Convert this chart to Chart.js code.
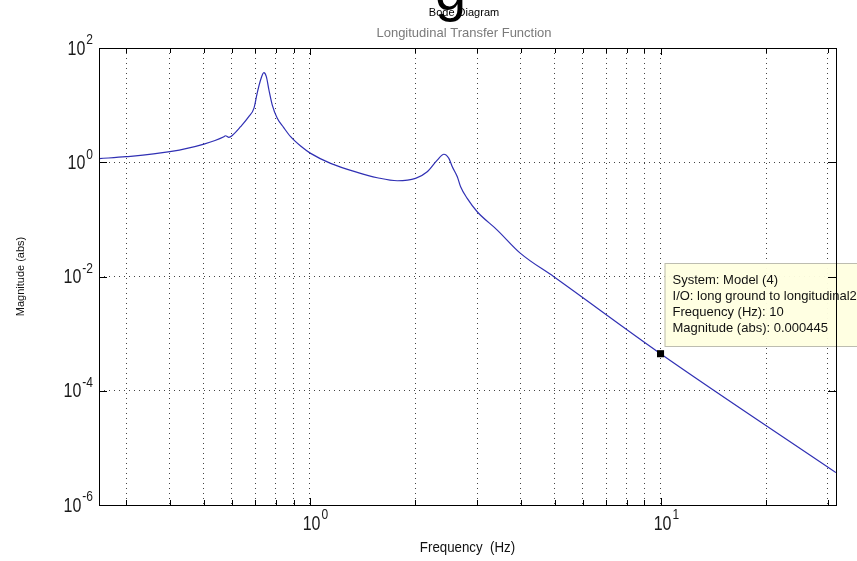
<!DOCTYPE html>
<html><head><meta charset="utf-8">
<script src="https://cdn.jsdelivr.net/npm/chart.js@4/dist/chart.umd.min.js"></script>
<style>html,body{margin:0;padding:0;background:#fff}#wrap{width:857px;height:561px;position:relative}</style>
</head><body><div id="wrap"><canvas id="c" width="857" height="561"></canvas></div>
<script>
// ---- data ----
const frequencies = [0.252,0.3,0.4,0.5,0.57,0.576,0.589,0.604,0.636,0.671,0.694,0.709,0.725,0.741,0.753,0.766,0.783,0.809,0.843,0.883,0.943,1.007,1.148,1.367,1.559,1.778,2.004,2.164,2.311,2.414,2.494,2.551,2.636,2.694,2.813,3.004,3.426,3.991,4.966,10,31.6];
const magnitudes  = [1.16,1.25,1.53,2.08,2.80,2.91,2.73,2.99,4.19,6.27,8.79,16.1,27.5,37.0,31.5,18.4,10.0,5.87,4.08,2.80,1.92,1.43,0.957,0.665,0.536,0.474,0.522,0.682,1.09,1.38,1.17,0.834,0.557,0.372,0.233,0.136,0.065,0.0254,0.00989,0.000445,0.0000037];
const markerFreq = [10];
const markerMag = [0.000445];
const xGridValues = [0.3,0.4,0.5,0.6,0.7,0.8,0.9,1,2,3,4,5,6,7,8,9,10,20,30];
const xLabelValues = [1,10];
const xLabelExponents = ['0','1'];
const yGridValues = [0.0001,0.01,1];
const yLabelValues = [0.000001,0.0001,0.01,1,100];
const yLabelExponents = ['-6','-4','-2','0','2'];
const titleText = 'Bode Diagram';
const subtitleText = 'Longitudinal Transfer Function';
const xAxisTitle = 'Frequency  (Hz)';
const yAxisTitle = 'Magnitude (abs)';
const tipLines = ['System: Model (4)','I/O: long ground to longitudinal2','Frequency (Hz): 10','Magnitude (abs): 0.000445'];

const FONT = '"Liberation Sans", Arial, sans-serif';

const decor = {
  id: 'decor',
  afterDatasetsDraw(chart) {
    const ctx = chart.ctx, a = chart.chartArea;
    const xs = chart.scales.x, ys = chart.scales.y;
    ctx.save();
    // data tip box
    const mx = xs.getPixelForValue(markerFreq[0]);
    const bx = mx + 4, by = 263, bw = 220, bh = 83;
    ctx.fillStyle = 'rgba(255,255,225,0.96)';
    ctx.fillRect(bx, by, bw, bh);
    ctx.strokeStyle = '#bdbdb0';
    ctx.lineWidth = 1;
    ctx.strokeRect(bx + 0.5, by + 0.5, bw, bh);
    ctx.fillStyle = '#111';
    ctx.font = '13px ' + FONT;
    ctx.textBaseline = 'middle';
    ctx.textAlign = 'left';
    tipLines.forEach((t, i) => ctx.fillText(t, bx + 8, by + 17 + i * 16));
    // plot box
    ctx.strokeStyle = '#000';
    ctx.lineWidth = 1;
    ctx.strokeRect(Math.round(a.left) + 0.5, Math.round(a.top) + 0.5, Math.round(a.right - a.left), Math.round(a.bottom - a.top));
    // inward ticks
    ctx.beginPath();
    xGridValues.forEach(v => {
      const px = Math.round(xs.getPixelForValue(v)) + 0.5;
      const len = (v === 1 || v === 10) ? 7 : 5;
      ctx.moveTo(px, a.bottom); ctx.lineTo(px, a.bottom - len);
      ctx.moveTo(px, a.top); ctx.lineTo(px, a.top + len);
    });
    yGridValues.forEach(v => {
      const py = Math.round(ys.getPixelForValue(v)) + 0.5;
      ctx.moveTo(a.left, py); ctx.lineTo(a.left + 8, py);
      ctx.moveTo(a.right, py); ctx.lineTo(a.right - 8, py);
    });
    ctx.stroke();
    // tick labels (10^n)
    ctx.fillStyle = '#1a1a1a';
    const drawPow = (cx, cy, exp, align) => {
      ctx.save();
      ctx.font = '16px ' + FONT;
      const w10 = ctx.measureText('10').width;
      ctx.font = '12px ' + FONT;
      const we = ctx.measureText(exp).width;
      let x0;
      if (align === 'right') x0 = cx - we - w10 - 1; else x0 = cx - w10 / 2;
      ctx.translate(0, cy);
      ctx.scale(1, 1.25);
      ctx.textBaseline = 'middle';
      ctx.textAlign = 'left';
      ctx.font = '16px ' + FONT;
      ctx.fillText('10', x0, 0);
      ctx.font = '12px ' + FONT;
      ctx.fillText(exp, x0 + w10 + 1, -7);
      ctx.restore();
    };
    yLabelValues.forEach((v, i) => drawPow(a.left - 6, ys.getPixelForValue(v) + 1, yLabelExponents[i], 'right'));
    xLabelValues.forEach((v, i) => drawPow(xs.getPixelForValue(v) + 2, a.bottom + 19, xLabelExponents[i], 'center'));
    // axis titles
    ctx.textAlign = 'center';
    ctx.textBaseline = 'middle';
    ctx.font = '14px ' + FONT;
    ctx.fillStyle = '#111';
    ctx.save();
    ctx.translate((a.left + a.right) / 2, 548);
    ctx.scale(0.95, 1.05);
    ctx.fillText(xAxisTitle, 0, 0);
    ctx.restore();
    ctx.save();
    ctx.translate(21, (a.top + a.bottom) / 2);
    ctx.rotate(-Math.PI / 2);
    ctx.font = '11px ' + FONT;
    ctx.fillText(yAxisTitle, 0, 0);
    ctx.restore();
    // titles
    ctx.font = '56px ' + FONT;
    ctx.fillStyle = '#000';
    ctx.textAlign = 'left';
    ctx.textBaseline = 'alphabetic';
    ctx.fillText('g', 435, 10);
    ctx.font = '11px ' + FONT;
    ctx.textAlign = 'center';
    ctx.textBaseline = 'middle';
    ctx.fillText(titleText, 464, 13);
    ctx.fillStyle = '#7a7a7a';
    ctx.font = '13px ' + FONT;
    ctx.fillText(subtitleText, 464, 33);
    ctx.restore();
  }
};

const setTicks = vals => scale => { scale.ticks = vals.map(v => ({ value: v })); };

new Chart(document.getElementById('c'), {
  type: 'scatter',
  data: {
    datasets: [
      { data: frequencies.map((f, i) => ({ x: f, y: magnitudes[i] })), showLine: true, borderColor: '#3030b4', borderWidth: 1.2, pointRadius: 0, cubicInterpolationMode: 'monotone', order: 2 },
      { data: markerFreq.map((f, i) => ({ x: f, y: markerMag[i] })), pointStyle: 'rect', pointRadius: 5, backgroundColor: '#000', borderColor: '#000', borderWidth: 0, order: 1 }
    ]
  },
  options: {
    responsive: false,
    animation: false,
    devicePixelRatio: 1,
    layout: { padding: { left: 99, top: 48, right: 21, bottom: 56 } },
    plugins: { legend: { display: false }, tooltip: { enabled: false }, title: { display: false } },
    scales: {
      x: {
        type: 'logarithmic', min: Math.pow(10, -0.6), max: Math.pow(10, 1.5),
        afterBuildTicks: setTicks(xGridValues),
        ticks: { display: false },
        grid: { color: '#444', lineWidth: 1, drawTicks: false },
        border: { display: false, dash: [1, 4] }
      },
      y: {
        type: 'logarithmic', min: 1e-6, max: 100,
        afterBuildTicks: setTicks(yGridValues),
        ticks: { display: false },
        grid: { color: '#444', lineWidth: 1, drawTicks: false },
        border: { display: false, dash: [1, 4] }
      }
    }
  },
  plugins: [decor]
});
</script></body></html>
